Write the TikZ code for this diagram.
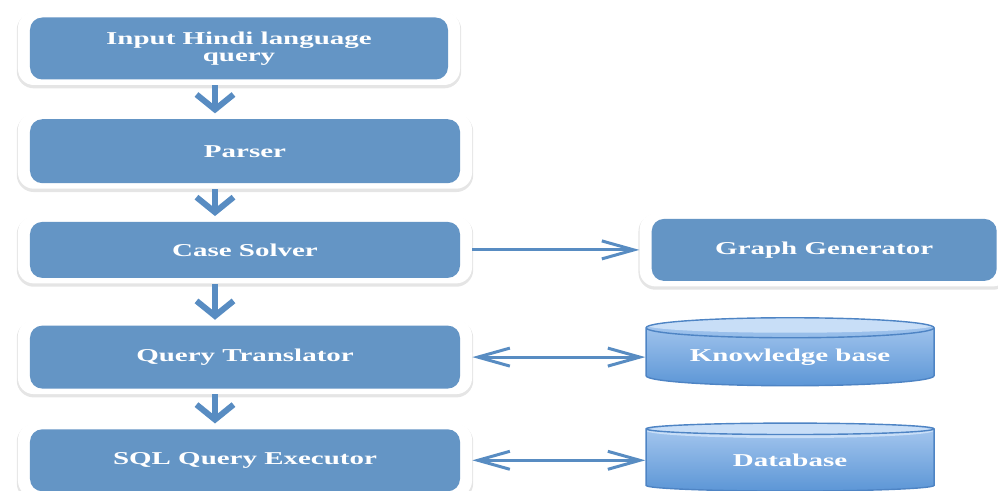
\documentclass[tikz,border=0pt]{standalone}
\usepackage{fontspec}
\setmainfont{Liberation Serif}
\newfontfamily\boxfont[FakeStretch=1.6]{Liberation Serif}
\usetikzlibrary{shapes.geometric, arrows.meta, positioning, calc}
\definecolor{boxblue}{RGB}{100,149,197}
\definecolor{arrowblue}{RGB}{88,140,194}
\definecolor{cyltop}{RGB}{200,222,247}
\definecolor{cyllight}{RGB}{170,202,240}
\definecolor{cyldark}{RGB}{92,150,214}
\definecolor{cylline}{RGB}{78,132,196}
\tikzset{stage/.style={fill=white, rounded corners=9pt, minimum height=14.6mm, inner sep=0pt, text=white, align=center,
  preaction={draw=black!10, fill=black!10, line width=1.4pt, transform canvas={yshift=-1.2pt}},
  path picture={\fill[boxblue, rounded corners=7pt] ($(path picture bounding box.south west)+(2.4mm,1.1mm)$) rectangle ($(path picture bounding box.north east)+(-2.4mm,-1.1mm)$);}}}
\tikzset{store/.style={cylinder, shape border rotate=90, aspect=0.1, draw=cylline, line width=0.8pt, top color=cyllight, bottom color=cyldark, text=white, minimum width=57.6mm, minimum height=13.6mm, inner sep=0pt,
  path picture={\fill[cyltop] ($(path picture bounding box.north)+(0,-1.5mm)$) ellipse [x radius=28.8mm, y radius=1.5mm];}}}
\tikzset{flow/.style={draw=arrowblue, line width=3.4pt, -{Straight Barb[length=3mm, width=7.4mm]}}}
\tikzset{link/.style={draw=arrowblue, line width=1.7pt, -{Straight Barb[length=6.4mm, width=3.6mm]}}}
\tikzset{twoway/.style={draw=arrowblue, line width=1.7pt, {Straight Barb[length=6.4mm, width=3.6mm]}-{Straight Barb[length=6.4mm, width=3.6mm]}}}

\begin{document}
\begin{tikzpicture}[font=\boxfont\bfseries\fontsize{10.3}{9.8}\selectfont]
\useasboundingbox (0,0) rectangle (19.96,-9.82);
\node[stage, minimum width=88.4mm] (input) at (4.78,-0.97) {Input Hindi language\\query};
\node[stage, minimum width=90.8mm, minimum height=15mm, below=5.6mm of input.south west, anchor=north west] (parser) {Parser};
\node[stage, minimum width=90.8mm, minimum height=13.4mm, below=5.4mm of parser.south west, anchor=north west] (case) {Case Solver};
\node[stage, minimum width=90.8mm, minimum height=14.8mm, below=7.2mm of case.south west, anchor=north west] (query) {Query Translator};
\node[stage, minimum width=90.8mm, below=5.8mm of query.south west, anchor=north west] (sql) {SQL Query Executor};

\node[stage, minimum width=73.8mm, right=33.4mm of case] (graph) {Graph Generator};
\node[store, right=34.6mm of query] (kb) {Knowledge base};
\node[store, right=34.6mm of sql] (db) {Database};

\coordinate (spine) at (4.3,0);
\draw[flow] (input.south -| spine) -- (parser.north -| spine);
\draw[flow] (parser.south -| spine) -- (case.north -| spine);
\draw[flow] (case.south -| spine) -- (query.north -| spine);
\draw[flow] (query.south -| spine) -- (sql.north -| spine);

\draw[link] (case.east) -- (case.east -| graph.west);
\draw[twoway] (query.east) -- (query.east -| kb.west);
\draw[twoway] (sql.east) -- (sql.east -| db.west);
\end{tikzpicture}
\end{document}
